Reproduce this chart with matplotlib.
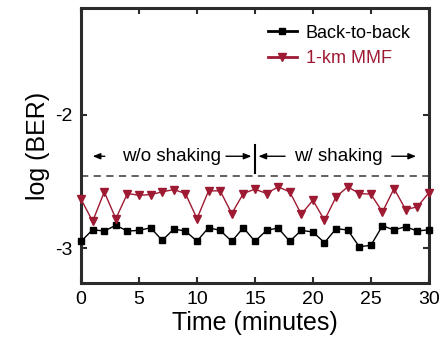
import matplotlib
matplotlib.use("Agg")
import matplotlib.pyplot as plt

plt.rcParams["font.family"] = ["Liberation Sans", "DejaVu Sans"]
plt.rcParams["axes.unicode_minus"] = False

# data (one point per minute)
time_min = list(range(31))
b2b = [-2.947, -2.86, -2.87, -2.827, -2.87, -2.865, -2.845, -2.94, -2.855, -2.87,
       -2.945, -2.845, -2.865, -2.947, -2.845, -2.947, -2.865, -2.847, -2.947, -2.865,
       -2.877, -2.957, -2.852, -2.862, -2.987, -2.977, -2.83, -2.862, -2.837, -2.87,
       -2.86]
mmf = [-2.632, -2.797, -2.577, -2.777, -2.589, -2.602, -2.597, -2.577, -2.559, -2.589,
       -2.777, -2.569, -2.569, -2.739, -2.589, -2.556, -2.589, -2.539, -2.577, -2.744,
       -2.639, -2.789, -2.614, -2.539, -2.589, -2.594, -2.727, -2.552, -2.709, -2.689,
       -2.584]
threshold = -2.46
xticks = [0, 5, 10, 15, 20, 25, 30]
yticks = [-3, -2]

red = "#9E1A33"
spine_col = "#2b2b2b"

fig = plt.figure(figsize=(4.43, 3.47), dpi=100)
ax = fig.add_axes([0.183, 0.184, 0.785, 0.793])

ax.plot(time_min, b2b, color="black", lw=1.0, marker="s", ms=5,
        label="Back-to-back", clip_on=False, zorder=3)
ax.plot(time_min, mmf, color=red, lw=1.0, marker="v", ms=6.3,
        label="1-km MMF", clip_on=False, zorder=3)
ax.axhline(threshold, color="#555555", lw=1.3, ls=(0, (4, 3)), zorder=2)

# shaking annotations
ty = -2.31
ax.text(7.8, ty, "w/o shaking", ha="center", va="center", fontsize=13.5)
ax.text(22.2, ty, "w/ shaking", ha="center", va="center", fontsize=13.5)
arr = dict(arrowstyle="-|>,head_length=0.45,head_width=0.18", color="black", lw=1.0,
           shrinkA=0, shrinkB=0)
for x0, x1 in [(2.05, 1.0), (12.5, 14.7), (17.6, 15.3), (26.8, 28.9)]:
    ax.annotate("", xy=(x1, ty), xytext=(x0, ty), arrowprops=arr)
ax.plot([15, 15], [-2.226, -2.434], color="black", lw=1.5)

ax.set_xlim(0, 30)
ax.set_ylim(-3.26, -1.2)
ax.set_xticks(xticks)
ax.set_yticks(yticks)
ax.tick_params(direction="in", length=4, width=1.5, labelsize=14,
               top=True, right=True, color=spine_col, pad=6)
for s in ax.spines.values():
    s.set_linewidth(2.2)
    s.set_color(spine_col)

ax.set_xlabel("Time (minutes)", fontsize=18, labelpad=2)
ax.set_ylabel("log (BER)", fontsize=18, labelpad=4)

leg = ax.legend(loc="upper right", frameon=False, fontsize=13, handlelength=1.6,
                handletextpad=0.5, labelcolor="linecolor", borderaxespad=0.3,
                labelspacing=0.45, bbox_to_anchor=(0.985, 0.985))
for h in leg.legend_handles:
    h.set_linewidth(2.0)

fig.savefig("out.png", dpi=100)
